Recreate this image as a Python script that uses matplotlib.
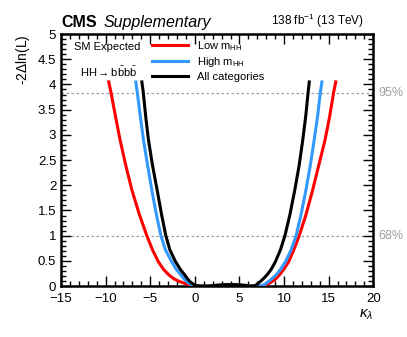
import matplotlib
matplotlib.use("Agg")
import matplotlib.pyplot as plt
from matplotlib.ticker import MultipleLocator

plt.rcParams["font.family"] = ["Liberation Sans", "DejaVu Sans"]
plt.rcParams["mathtext.fontset"] = "custom"
plt.rcParams["mathtext.rm"] = "Liberation Sans"
plt.rcParams["mathtext.it"] = "Liberation Sans:italic"
plt.rcParams["mathtext.bf"] = "Liberation Sans:bold"

# scan points (kappa_lambda, -2 Delta ln L)
k_low = [-9.65, -9.4, -8.88, -8.38, -7.75, -7.05, -6.2, -5.38, -4.75, -4.08, -3.5, -2.9, -2.3,
         -1.7, -1.0, -0.4, 0.3, 2.0, 3.5, 4.5, 6.0, 7.3, 7.8, 8.25, 8.65, 9.05, 9.47, 10.0,
         10.51, 11.1, 11.7, 12.45, 13.2, 13.9, 14.6, 15.1, 15.56, 15.8]
nll_low = [4.05, 3.84, 3.35, 2.9, 2.4, 1.9, 1.41, 1.0, 0.72, 0.48, 0.33, 0.22, 0.14,
           0.09, 0.045, 0.015, 0.0, 0.0, 0.02, 0.02, 0.0, 0.0, 0.01, 0.045, 0.09, 0.14, 0.22, 0.34,
           0.48, 0.72, 1.0, 1.41, 1.9, 2.4, 2.9, 3.35, 3.84, 4.05]

k_high = [-6.62, -6.45, -6.1, -5.76, -5.3, -4.82, -4.3, -3.8, -3.3, -2.58, -2.08, -1.55, -1.18,
          -0.9, -0.5, -0.1, 0.5, 2.0, 3.5, 4.5, 6.0, 7.0, 7.5, 7.9, 8.27, 8.6, 9.1, 9.6,
          10.15, 10.8, 11.35, 11.9, 12.45, 12.95, 13.38, 13.75, 14.07, 14.25]
nll_high = [4.05, 3.84, 3.35, 2.9, 2.4, 1.9, 1.41, 1.0, 0.72, 0.48, 0.33, 0.22, 0.14,
            0.09, 0.04, 0.01, 0.0, 0.0, 0.02, 0.02, 0.0, 0.0, 0.01, 0.04, 0.09, 0.14, 0.22, 0.33,
            0.48, 0.72, 1.0, 1.41, 1.9, 2.4, 2.9, 3.35, 3.84, 4.05]

k_all = [-5.94, -5.78, -5.5, -5.2, -4.75, -4.22, -3.72, -3.25, -2.8, -2.15, -1.62, -1.12, -0.8,
         -0.55, -0.2, 0.2, 0.8, 1.5, 2.5, 3.5, 4.5, 5.5, 6.2, 6.77, 7.0, 7.33, 7.65, 8.08, 8.55,
         9.02, 9.6, 10.1, 10.65, 11.2, 11.7, 12.1, 12.42, 12.7, 12.83]
nll_all = [4.05, 3.84, 3.35, 2.9, 2.4, 1.9, 1.41, 1.0, 0.72, 0.48, 0.33, 0.22, 0.14,
           0.09, 0.04, 0.01, 0.0, 0.0, 0.02, 0.03, 0.03, 0.02, 0.0, 0.01, 0.04, 0.09, 0.14, 0.22, 0.33,
           0.48, 0.72, 1.0, 1.41, 1.9, 2.4, 2.9, 3.35, 3.84, 4.05]

cl_levels = [1.0, 3.84]
cl_labels = ["68%", "95%"]

fig = plt.figure(figsize=(4.07, 3.37), dpi=100)
ax = fig.add_axes([0.150, 0.151, 0.767, 0.748])

for lvl, lab in zip(cl_levels, cl_labels):
    ax.axhline(lvl, color="#a0a0a0", linestyle=(0, (2, 2)), linewidth=0.9, zorder=1)
    ax.text(20.55, lvl, lab, color="#a0a0a0", fontsize=9, ha="left", va="center")

ax.plot(k_low, nll_low, color="#ff0000", linewidth=2.2, label=r"Low m$_{\mathrm{HH}}$",
        solid_joinstyle="round", zorder=3)
ax.plot(k_high, nll_high, color="#3399ff", linewidth=2.2, label=r"High m$_{\mathrm{HH}}$",
        solid_joinstyle="round", zorder=4)
ax.plot(k_all, nll_all, color="#000000", linewidth=2.2, label="All categories",
        solid_joinstyle="round", zorder=5)

ax.set_xlim(-15, 20)
ax.set_ylim(0, 5)
ax.xaxis.set_major_locator(MultipleLocator(5))
ax.xaxis.set_minor_locator(MultipleLocator(1))
ax.yaxis.set_major_locator(MultipleLocator(0.5))
ax.yaxis.set_minor_locator(MultipleLocator(0.1))
ax.yaxis.set_major_formatter(plt.FuncFormatter(lambda v, p: f"{v:g}"))
ax.tick_params(which="both", direction="in", top=True, right=True, labelsize=9.5, width=1)
ax.tick_params(axis="x", pad=5)
ax.tick_params(which="major", length=7)
ax.tick_params(which="minor", length=3.5)
for s in ax.spines.values():
    s.set_linewidth(1.8)

ax.set_ylabel(r"-2$\Delta$ln(L)", fontsize=10, loc="top", labelpad=4)
ax.set_xlabel(r"$\kappa_{\lambda}$", fontsize=11, loc="right", labelpad=2)

ax.text(0.0, 1.015, "CMS", transform=ax.transAxes, fontsize=11.5, fontweight="bold", va="bottom")
ax.text(0.135, 1.015, "Supplementary", transform=ax.transAxes, fontsize=11.5, style="italic", va="bottom")
ax.text(0.97, 1.015, r"138 fb$^{-1}$ (13 TeV)", transform=ax.transAxes, fontsize=8.5, ha="right", va="bottom")

ax.text(0.04, 0.95, "SM Expected", transform=ax.transAxes, fontsize=8, va="center")
ax.text(0.06, 0.85, r"HH$\rightarrow$b$\bar{\mathrm{b}}$b$\bar{\mathrm{b}}$", transform=ax.transAxes,
        fontsize=8, va="center")

ax.legend(loc="upper left", bbox_to_anchor=(0.26, 1.02), frameon=False, fontsize=8,
          handlelength=3.2, handletextpad=0.8, labelspacing=0.22)

fig.savefig("out.png", dpi=100)
